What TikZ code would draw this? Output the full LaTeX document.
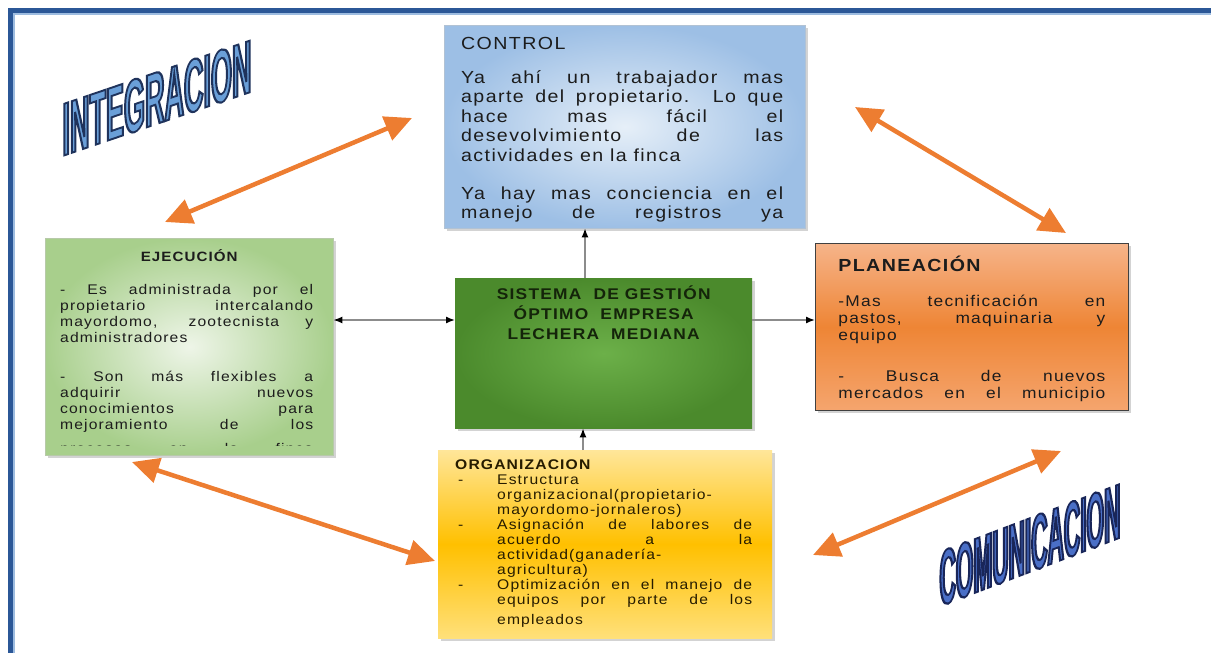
\documentclass[tikz,border=0pt]{standalone}
\usepackage{fontspec}
\setmainfont{Liberation Sans}
\newfontfamily\bodyf{Liberation Sans}[FakeStretch=1.12,LetterSpace=8]
\newfontfamily\wafa{Liberation Sans}[FakeStretch=0.36]
\newfontfamily\wafb{Liberation Sans}[FakeStretch=0.29]
\usetikzlibrary{arrows.meta,shadows,calc}
\definecolor{frameblue}{HTML}{2B5797}
\definecolor{framelight}{HTML}{9DBCE0}
\definecolor{ctrlin}{HTML}{E6EFF8}
\definecolor{ctrlout}{HTML}{9DBFE5}
\definecolor{ejin}{HTML}{EEF5E8}
\definecolor{ejout}{HTML}{A8CF8C}
\definecolor{cenin}{HTML}{6CB049}
\definecolor{cenout}{HTML}{4B8A2C}
\definecolor{plantop}{HTML}{F6B48A}
\definecolor{planmid}{HTML}{EE8535}
\definecolor{planbot}{HTML}{F5A56E}
\definecolor{orgtop}{HTML}{FFE699}
\definecolor{orgmid}{HTML}{FFC000}
\definecolor{orgbot}{HTML}{FFE07A}
\definecolor{oar}{HTML}{ED7D31}
\definecolor{txt}{HTML}{1C1C1C}
\definecolor{centxt}{HTML}{14240A}
\definecolor{orgtxt}{HTML}{261C00}
\definecolor{waone}{HTML}{6A9FD8}
\definecolor{watwo}{HTML}{4A6FC7}
\newlength\ti \newlength\tw
\newcommand\jl[1]{\par\noindent\hspace*{\ti}\makebox[\tw][s]{\strut#1}}
\newcommand\lj[1]{\par\noindent\hspace*{\ti}\makebox[\tw][l]{\strut#1}}
\newcommand\cl[1]{\par\noindent\makebox[\linewidth][c]{\strut#1}}
\newcommand\dl[2]{\par\noindent\hspace*{20pt}\makebox[39pt][l]{-}\makebox[255pt][#1]{\strut#2}}
\newcommand\ndl[2]{\par\noindent\hspace*{59pt}\makebox[255pt][#1]{\strut#2}}
\newcommand\outl[2]{\special{pdf:code 2 Tr 2 w #1 RG}#2\special{pdf:code 0 Tr}}
\tikzset{
  box/.style={inner sep=0pt, anchor=north west, drop shadow={opacity=0.35, shadow xshift=2.5pt, shadow yshift=-3pt}},
  blk/.style={draw=black!45, line width=1.4pt},
  tipb/.tip={Latex[color=black,length=9pt,width=7pt]},
  oarr/.style={draw=oar, line width=4.5pt, {Triangle[length=27pt,width=25pt]}-{Triangle[length=27pt,width=25pt]}},
}
\begin{document}
\begin{tikzpicture}[x=1pt,y=-1pt]
\useasboundingbox (0,0) rectangle (1211,653);
% frame
\fill[framelight] (8,8) rectangle (1211,15);
\fill[framelight] (8,8) rectangle (15,653);
\fill[frameblue] (8,8) rectangle (1211,12.5);
\fill[frameblue] (8,8) rectangle (12.5,653);

% CONTROL
\node[box, draw=ctrlout!80!black!60, inner color=ctrlin, outer color=ctrlout] (ctrl) at (444,25)
{\parbox[c][203pt][t]{361pt}{\setlength\ti{17pt}\setlength\tw{322pt}\color{txt}\bodyf
\fontsize{17.5}{20}\selectfont\vspace*{10pt}\lj{CONTROL}\par
\fontsize{17.5}{19.5}\selectfont\vspace{13.5pt}
\jl{Ya ahí un trabajador mas}
\jl{aparte del propietario. Lo que}
\jl{hace mas fácil el}
\jl{desevolvimiento de las}
\lj{actividades en la finca}\par\vspace{18.5pt}
\jl{Ya hay mas conciencia en el}
\jl{manejo de registros ya}\par}};

% EJECUCION
\node[box, draw=ejout!80!black!60, inner color=ejin, outer color=ejout] (ejec) at (45,238)
{\parbox[c][217pt][t]{288pt}{\setlength\ti{15pt}\setlength\tw{253pt}\color{txt}\bodyf
\fontsize{13.5}{16}\selectfont\vspace*{11.8pt}\cl{\bfseries EJECUCIÓN}\par
\fontsize{14}{16}\selectfont\vspace{17pt}
\jl{- Es administrada por el}
\jl{propietario intercalando}
\jl{mayordomo, zootecnista y}
\lj{administradores}\par\vspace{23pt}
\jl{- Son más flexibles a}
\jl{adquirir nuevos}
\jl{conocimientos para}
\jl{mejoramiento de los}\par}};
\begin{scope}
\clip (60,441) rectangle (315,445.5);
\node[anchor=base west, inner sep=0pt, text=txt] (ejecx) at (60,453)
  {\bodyf\fontsize{14}{16}\selectfont\makebox[253pt][s]{procesos en la finca}};
\end{scope}

% PLANEACION
\node[box, draw=black!75, line width=0.8pt, top color=plantop, bottom color=planbot, middle color=planmid] (plan) at (815,243)
{\parbox[c][167pt][t]{313pt}{\setlength\ti{23pt}\setlength\tw{267pt}\color{txt}\bodyf
\fontsize{17.5}{20}\selectfont\vspace*{13pt}\lj{\bfseries PLANEACIÓN}\par
\fontsize{15.5}{17}\selectfont\vspace{16pt}
\jl{-Mas tecnificación en}
\jl{pastos, maquinaria y}
\lj{equipo}\par\vspace{24pt}
\jl{- Busca de nuevos}
\jl{mercados en el municipio}\par}};

% CENTER
\node[box, inner color=cenin, outer color=cenout] (center) at (455,278)
{\parbox[c][150pt][t]{297pt}{\color{centxt}\bodyf\bfseries
\fontsize{15.5}{19.5}\selectfont\vspace*{7.35pt}
\cl{SISTEMA\ \ DE GESTIÓN}
\cl{ÓPTIMO\ \ EMPRESA}
\cl{LECHERA\ \ MEDIANA}\par}};

% ORGANIZACION
\node[box, top color=orgtop, bottom color=orgbot, middle color=orgmid] (org) at (438,450)
{\parbox[c][188pt][t]{334pt}{\setlength\ti{17pt}\setlength\tw{300pt}\color{orgtxt}\bodyf
\fontsize{14}{15}\selectfont\vspace*{8.5pt}\lj{\bfseries ORGANIZACION}\par
\dl{l}{Estructura}
\ndl{l}{organizacional(propietario-}
\ndl{l}{mayordomo-jornaleros)}
\dl{s}{Asignación de labores de}
\ndl{s}{acuerdo a la}
\ndl{l}{actividad(ganadería-}
\ndl{l}{agricultura)}
\dl{s}{Optimización en el manejo de}
\ndl{s}{equipos por parte de los}\par\vspace{5pt}
\ndl{l}{empleados}\par}};

% black connectors
\coordinate (ax) at (585,0);
\coordinate (bx) at (583,0);
\coordinate (ay) at (0,320);
\draw[blk, -tipb] (center.north -| ax) -- (ctrl.south -| ax);
\draw[blk, tipb-tipb] (ejec.east |- ay) -- (center.west |- ay);
\draw[blk, -tipb] (center.east |- ay) -- (plan.west |- ay);
\draw[blk, -tipb] (org.north -| bx) -- (center.south -| bx);

% orange double arrows
\coordinate (i1) at (165,222);
\coordinate (i2) at (412,118);
\coordinate (p1) at (855,107);
\coordinate (p2) at (1066,233);
\coordinate (e1) at (132,462);
\coordinate (e2) at (435,561);
\coordinate (c1) at (813,555);
\coordinate (c2) at (1061,451);
\draw[oarr] (i1) -- (i2);
\draw[oarr] (p1) -- (p2);
\draw[oarr] (e1) -- (e2);
\draw[oarr] (c1) -- (c2);

% word art
\begin{scope}[shift={(157,98)}, yslant=0.34]
\node[transform shape, inner sep=0pt, text=waone] (integ)
  {\wafa\bfseries\fontsize{75}{75}\selectfont\outl{0.12 0.2 0.36}{INTEGRACION}};
\end{scope}
\begin{scope}[shift={(1030,545)}, yslant=0.38]
\node[transform shape, inner sep=0pt, text=watwo] (comu)
  {\wafb\bfseries\fontsize{78}{78}\selectfont\outl{0.1 0.15 0.35}{COMUNICACION}};
\end{scope}
\end{tikzpicture}
\end{document}
